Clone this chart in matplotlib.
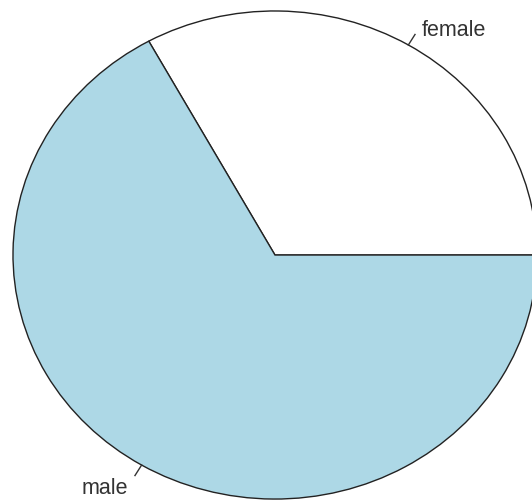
import numpy as np
import matplotlib
matplotlib.use('Agg')
import matplotlib.pyplot as plt

# data
labels = ['female', 'male']
counts = [33, 67]
colors = ['white', '#ADD8E6']

fig = plt.figure(figsize=(5.32, 5.01), dpi=100)
ax = fig.add_axes([0, 0, 1, 1])

ax.pie(counts, colors=colors, startangle=0, counterclock=True,
       wedgeprops=dict(edgecolor='#222222', linewidth=1.0))
ax.set_aspect('auto')
ax.set_xlim(-1.0496, 0.981)
ax.set_ylim(-1.008, 1.045)
ax.axis('off')

# R-style labels with small tick marks
frac = np.array(counts) / np.sum(counts)
edges = np.concatenate([[0], np.cumsum(frac)]) * 2 * np.pi
for i, lab in enumerate(labels):
    mid = (edges[i] + edges[i + 1]) / 2
    c, s = np.cos(mid), np.sin(mid)
    ax.plot([c, 1.05 * c], [s, 1.05 * s], color='#333333', lw=1.0)
    dy = -0.025 if s > 0 else -0.008
    ax.text(1.1 * c, 1.1 * s + dy, lab, ha='left' if c > 0 else 'right',
            va='center', fontsize=15.5, family='Liberation Sans', color='#333333')

fig.savefig('out.png', dpi=100)
